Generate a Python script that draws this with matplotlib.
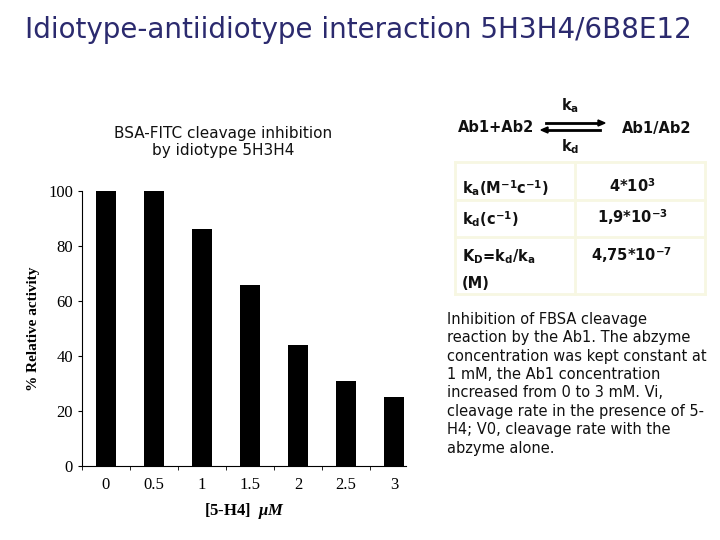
import matplotlib.pyplot as plt

plt.rcParams["mathtext.fontset"] = "custom"
plt.rcParams["mathtext.it"] = "Liberation Serif:italic:bold"

# data
concs = ["0", "0.5", "1", "1.5", "2", "2.5", "3"]
activity = [100, 100, 86, 66, 44, 31, 25]

title = "Idiotype-antiidiotype interaction 5H3H4/6B8E12"
subtitle = "BSA-FITC cleavage inhibition\nby idiotype 5H3H4"
param_names = [r"k$_\mathregular{a}$(M$^\mathregular{-1}$c$^\mathregular{-1}$)",
               r"k$_\mathregular{d}$(c$^\mathregular{-1}$)",
               r"K$_\mathregular{D}$=k$_\mathregular{d}$/k$_\mathregular{a}$"]
param_values = [r"4*10$^\mathregular{3}$",
                r"1,9*10$^\mathregular{-3}$",
                r"4,75*10$^\mathregular{-7}$"]
caption = ("Inhibition of FBSA cleavage\n"
           "reaction by the Ab1. The abzyme\n"
           "concentration was kept constant at\n"
           "1 mM, the Ab1 concentration\n"
           "increased from 0 to 3 mM. Vi,\n"
           "cleavage rate in the presence of 5-\n"
           "H4; V0, cleavage rate with the\n"
           "abzyme alone.")

W, H = 720, 540
fig = plt.figure(figsize=(7.2, 5.4), dpi=100)

def fx(px):
    return px / W

def fy(py):
    return 1 - py / H

# title
fig.text(fx(358), fy(30), title, ha="center", va="center", fontsize=20,
         color="#2b2a6e", family="DejaVu Sans")
fig.text(fx(223), fy(142), subtitle, ha="center", va="center", fontsize=11,
         linespacing=1.15, family="DejaVu Sans", color="#111111")

# bar chart
ax = fig.add_axes([fx(82), fy(466), fx(406 - 82), (466 - 191) / H])
xs = list(range(len(concs)))
ax.bar(xs, activity, width=0.42, color="black")
ax.set_xlim(-0.5, 6.25)
ax.set_ylim(0, 100)
ax.set_yticks([0, 20, 40, 60, 80, 100])
ax.set_xticks(xs)
ax.set_xticklabels(concs)
ax.set_xticks([i + 0.5 for i in range(-1, 6)], minor=True)
ax.tick_params(axis="x", which="major", length=0, pad=8)
ax.tick_params(axis="x", which="minor", length=3, direction="out")
ax.tick_params(axis="y", length=3, direction="out")
for lab in ax.get_xticklabels() + ax.get_yticklabels():
    lab.set_family("Liberation Serif")
    lab.set_fontsize(12)
for s in ["top", "right"]:
    ax.spines[s].set_visible(False)
ax.set_ylabel("% Relative activity", family="Liberation Serif",
              fontweight="bold", fontsize=11, labelpad=6)
ax.set_xlabel(r"[5-H4]  $\mu M$", family="Liberation Serif",
              fontweight="bold", fontsize=12, labelpad=6)

# reaction scheme
bold = dict(fontweight="bold", fontsize=10.5, family="DejaVu Sans", color="#111111")
fig.text(fx(458), fy(128), "Ab1+Ab2", ha="left", va="center", **bold)
fig.text(fx(622), fy(128), "Ab1/Ab2", ha="left", va="center", **bold)
fig.text(fx(570), fy(106), r"k$_\mathregular{a}$", ha="center", va="center", **bold)
fig.text(fx(570), fy(147), r"k$_\mathregular{d}$", ha="center", va="center", **bold)
fig.add_artist(plt.Line2D([fx(546), fx(598)], [fy(123), fy(123)], color="black", lw=2))
fig.add_artist(plt.Line2D([fx(548), fx(600)], [fy(130), fy(130)], color="black", lw=2))
fig.add_artist(plt.Polygon([[fx(598), fy(120)], [fx(605), fy(123)], [fx(598), fy(126)]],
                           closed=True, color="black"))
fig.add_artist(plt.Polygon([[fx(548), fy(127)], [fx(541), fy(130)], [fx(548), fy(133)]],
                           closed=True, color="black"))

# parameter table with faint grid
grid = "#f7f7e2"
for py in [162, 200, 237, 294]:
    fig.add_artist(plt.Line2D([fx(455), fx(705)], [fy(py), fy(py)], color=grid, lw=2))
for px in [455, 575, 705]:
    fig.add_artist(plt.Line2D([fx(px), fx(px)], [fy(162), fy(294)], color=grid, lw=2))
row_y = [188, 219, 257]
for name, val, py in zip(param_names, param_values, row_y):
    fig.text(fx(462), fy(py), name, ha="left", va="center", **bold)
    fig.text(fx(632), fy(py - 2), val, ha="center", va="center", **bold)
fig.text(fx(462), fy(283), "(M)", ha="left", va="center", **bold)

# caption
fig.text(fx(447), fy(312), caption, ha="left", va="top", fontsize=10.5,
         linespacing=1.28, family="DejaVu Sans", color="#111111")

fig.savefig("out.png", dpi=100)
